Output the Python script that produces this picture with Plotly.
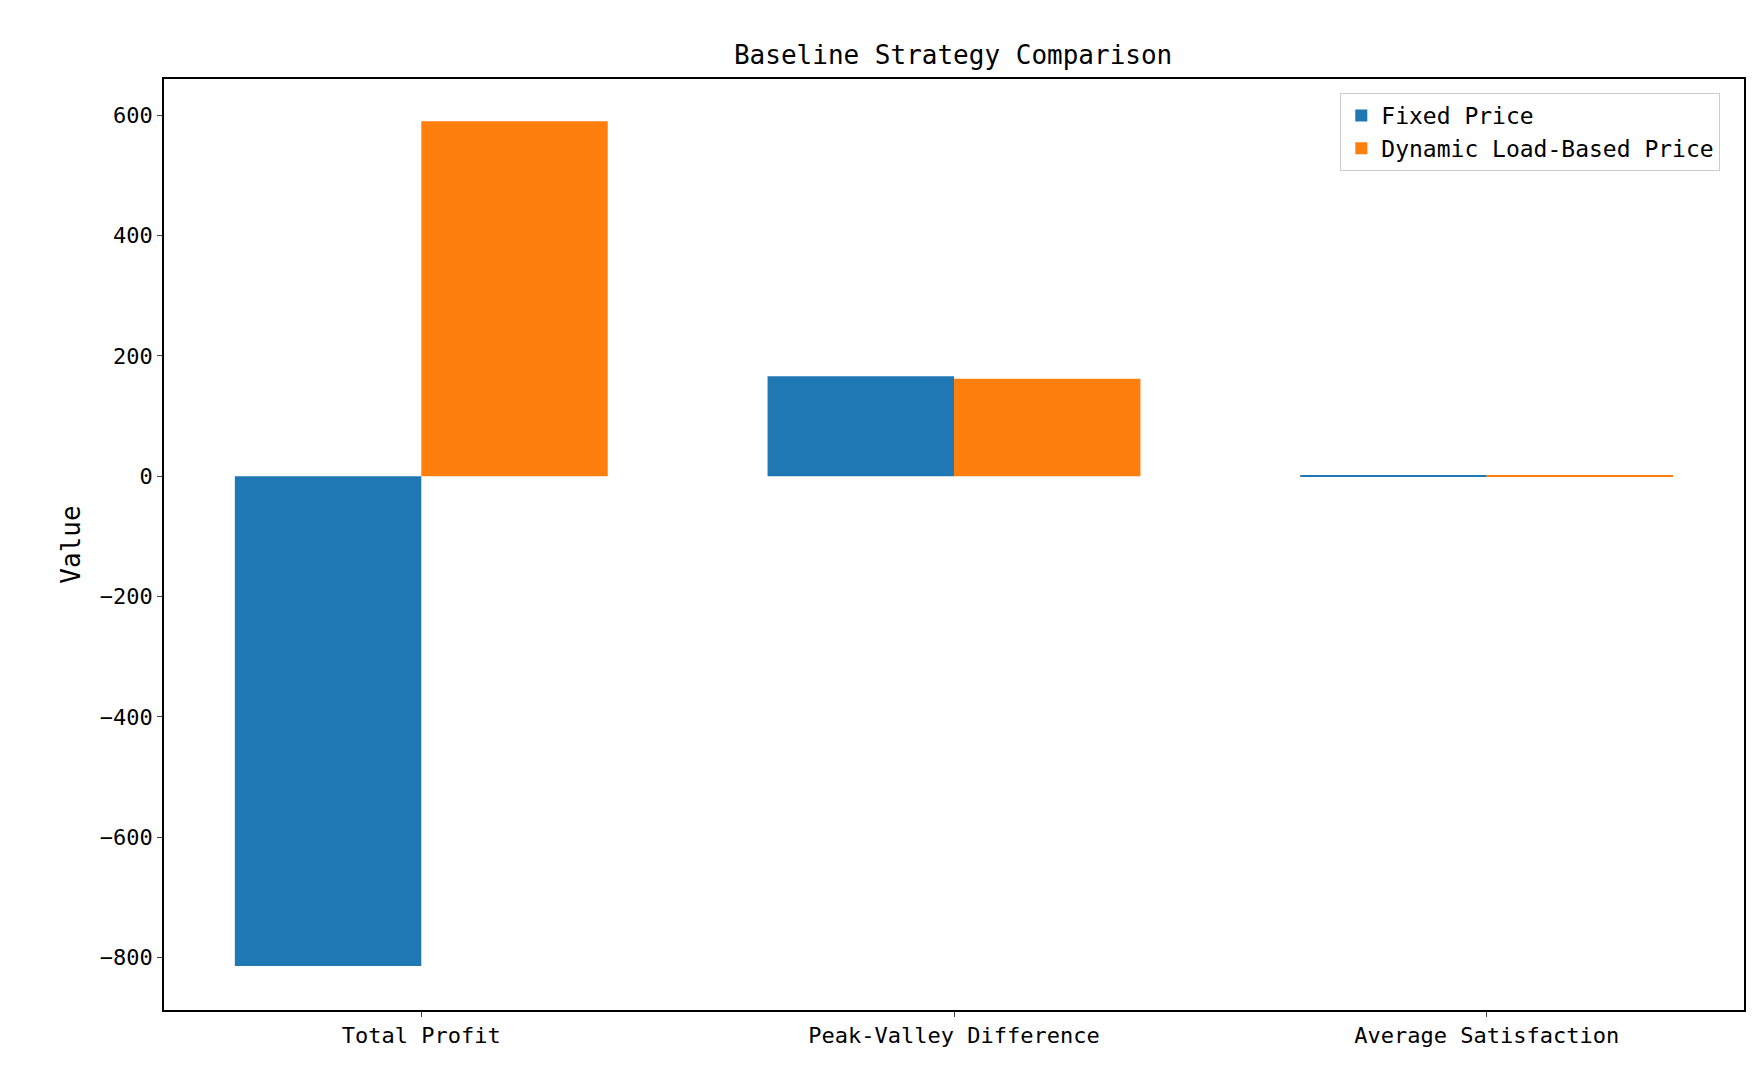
import plotly.graph_objects as go

categories = ["Total Profit", "Peak-Valley Difference", "Average Satisfaction"]
fixed = [-814, 166, 0.8]
dynamic = [590, 162, 0.85]
xs = [0, 1, 2]
W = 0.35
font = "DejaVu Sans Mono"

fig = go.Figure()
fig.add_bar(x=xs, y=fixed, name="Fixed Price", marker_color="#1f77b4",
            width=W, offset=-W, marker_line_width=0)
fig.add_bar(x=xs, y=dynamic, name="Dynamic Load-Based Price", marker_color="#ff7f0e",
            width=W, offset=0, marker_line_width=0)
fig.update_layout(
    width=1760, height=1080, plot_bgcolor="white", paper_bgcolor="white",
    margin=dict(l=156, r=24, t=71, b=78),
    font=dict(family=font, size=22, color="black"),
    title=dict(text="Baseline Strategy Comparison", x=0.537, xanchor="center",
               y=0.965, font=dict(size=26)),
    barmode="overlay",
    legend=dict(x=0.985, y=0.985, xanchor="right", yanchor="top",
                bordercolor="#cccccc", borderwidth=1, font=dict(size=23)),
    xaxis=dict(range=[-0.483, 2.483], tickvals=xs, ticktext=categories,
               showline=True, mirror=True, linecolor="black", linewidth=1.5,
               ticks="outside", showgrid=False, zeroline=False),
    yaxis=dict(range=[-887, 660], tickvals=list(range(-800, 601, 200)),
               title=dict(text="Value", standoff=12),
               showline=True, mirror=True, linecolor="black", linewidth=1.5,
               ticks="outside", showgrid=False, zeroline=False),
)
fig.write_html("out.html")
